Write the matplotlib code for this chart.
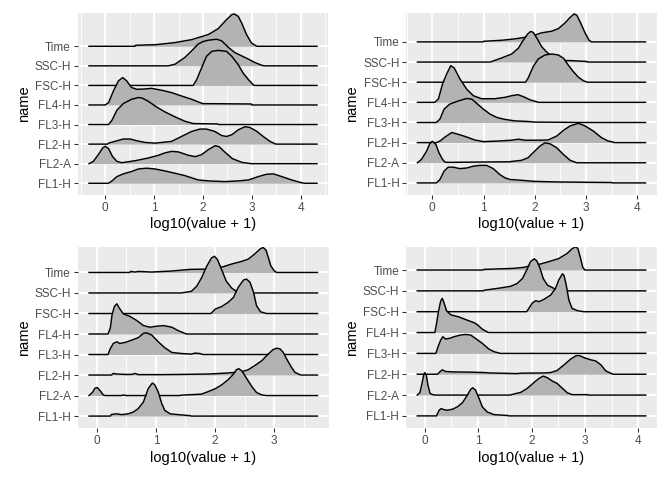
import matplotlib
matplotlib.use("Agg")
import matplotlib.pyplot as plt

# ---------------- data (x, relative ridge height in row units) ----------------
categories = ["FL1-H", "FL2-A", "FL2-H", "FL3-H", "FL4-H", "FSC-H", "SSC-H", "Time"]

# Panel 1 (top-left)
p1_time = [(-0.33, 0), (0.61, 0), (0.62, 0.05), (1.05, 0.085), (1.43, 0.19), (1.77, 0.34), (2.11, 0.60),
           (2.31, 0.90), (2.48, 1.36), (2.59, 1.62), (2.64, 1.65), (2.72, 1.53), (2.79, 1.19), (2.89, 0.60),
           (2.99, 0.17), (3.10, 0), (4.33, 0)]
p1_ssc = [(-0.33, 0), (1.29, 0), (1.43, 0.085), (1.63, 0.43), (1.77, 0.77), (1.90, 1.11), (2.00, 1.24),
          (2.11, 1.31), (2.28, 1.36), (2.38, 1.28), (2.52, 0.94), (2.65, 0.68), (2.79, 0.51), (2.93, 0.34),
          (3.06, 0.17), (3.20, 0.03), (3.25, 0), (4.33, 0)]
p1_fsc = [(-0.33, 0), (1.80, 0), (1.87, 0.29), (1.97, 0.89), (2.07, 1.48), (2.18, 1.74), (2.31, 1.79),
          (2.48, 1.74), (2.59, 1.48), (2.72, 1.06), (2.82, 0.63), (2.93, 0.29), (3.03, 0.03), (3.06, 0),
          (4.33, 0)]
p1_fl4 = [(-0.33, 0), (0.0, 0), (0.07, 0.12), (0.17, 0.72), (0.27, 1.23), (0.36, 1.40), (0.44, 1.23),
          (0.54, 0.89), (0.65, 0.80), (0.82, 0.82), (0.95, 0.85), (1.16, 0.75), (1.36, 0.63), (1.56, 0.46),
          (1.77, 0.29), (1.94, 0.12), (2.0, 0.07), (2.99, 0.05), (3.0, 0), (4.33, 0)]
p1_fl3 = [(-0.33, 0), (0.07, 0), (0.14, 0.22), (0.24, 0.73), (0.37, 1.07), (0.54, 1.29), (0.68, 1.38),
          (0.75, 1.36), (0.88, 1.19), (1.05, 0.90), (1.22, 0.65), (1.43, 0.39), (1.63, 0.17), (1.80, 0.05),
          (2.30, 0.03), (2.32, 0), (4.33, 0)]
p1_fl2h = [(-0.33, 0), (0.05, 0), (0.07, 0.05), (0.20, 0.14), (0.37, 0.26), (0.51, 0.26), (0.65, 0.17),
           (0.82, 0.085), (1.02, 0.05), (1.36, 0.14), (1.56, 0.39), (1.77, 0.65), (1.94, 0.77), (2.07, 0.77),
           (2.24, 0.65), (2.38, 0.44), (2.48, 0.39), (2.59, 0.48), (2.72, 0.73), (2.86, 0.89), (2.96, 0.85),
           (3.10, 0.65), (3.23, 0.39), (3.37, 0.14), (3.47, 0.02), (3.5, 0), (4.33, 0)]
p1_fl2a = [(-0.33, 0), (-0.24, 0.12), (-0.14, 0.46), (-0.05, 0.80), (0.0, 0.89), (0.07, 0.77), (0.15, 0.37),
           (0.24, 0.12), (0.34, 0.05), (0.61, 0.15), (0.88, 0.29), (1.09, 0.43), (1.22, 0.55), (1.36, 0.63),
           (1.50, 0.60), (1.70, 0.43), (1.84, 0.36), (1.97, 0.46), (2.11, 0.72), (2.25, 0.92), (2.33, 0.87),
           (2.43, 0.63), (2.60, 0.26), (2.79, 0.07), (2.99, 0), (4.33, 0)]
p1_fl1 = [(-0.33, 0), (0.07, 0), (0.14, 0.12), (0.24, 0.34), (0.37, 0.48), (0.54, 0.60), (0.68, 0.73),
          (0.85, 0.77), (1.02, 0.73), (1.22, 0.63), (1.43, 0.51), (1.63, 0.39), (1.90, 0.17), (2.11, 0.12),
          (2.45, 0.085), (2.72, 0.12), (2.93, 0.17), (3.13, 0.34), (3.30, 0.46), (3.44, 0.48), (3.61, 0.34),
          (3.81, 0.17), (4.01, 0.03), (4.08, 0), (4.33, 0)]

# Panel 2 (top-right)
p2_time = [(-0.29, 0), (0.99, 0), (1.0, 0.03), (1.35, 0.08), (1.61, 0.15), (1.74, 0.20), (1.94, 0.28),
           (2.13, 0.45), (2.33, 0.53), (2.46, 0.66), (2.59, 0.94), (2.69, 1.22), (2.77, 1.39), (2.82, 1.32),
           (2.88, 1.02), (2.98, 0.45), (3.06, 0.08), (3.11, 0), (4.16, 0)]
p2_ssc = [(-0.29, 0), (1.13, 0), (1.35, 0.20), (1.55, 0.40), (1.68, 0.69), (1.78, 1.10), (1.86, 1.39),
          (1.92, 1.52), (1.97, 1.47), (2.04, 1.19), (2.13, 0.78), (2.23, 0.50), (2.36, 0.23), (2.52, 0.08),
          (2.72, 0.07), (3.01, 0.03), (3.04, 0), (4.16, 0)]
p2_fsc = [(-0.29, 0), (1.82, 0), (1.87, 0.20), (1.97, 0.78), (2.07, 1.16), (2.20, 1.35), (2.33, 1.40),
          (2.46, 1.35), (2.56, 1.19), (2.65, 0.86), (2.75, 0.53), (2.85, 0.25), (2.95, 0.07), (3.03, 0),
          (4.16, 0)]
p2_fl4 = [(-0.29, 0), (0.05, 0), (0.12, 0.17), (0.20, 0.91), (0.28, 1.40), (0.36, 1.82), (0.43, 1.70),
          (0.54, 1.16), (0.67, 0.66), (0.80, 0.33), (0.96, 0.18), (1.22, 0.18), (1.42, 0.25), (1.55, 0.33),
          (1.67, 0.38), (1.78, 0.28), (1.91, 0.12), (2.04, 0.03), (2.07, 0), (4.16, 0)]
p2_fl3 = [(-0.29, 0), (0.08, 0), (0.15, 0.17), (0.23, 0.66), (0.34, 0.91), (0.51, 1.07), (0.67, 1.19),
          (0.77, 1.16), (0.87, 0.94), (1.00, 0.66), (1.13, 0.41), (1.26, 0.25), (1.42, 0.15), (1.61, 0.08),
          (1.87, 0.05), (2.00, 0.02), (3.0, 0), (4.16, 0)]
p2_fl2h = [(-0.29, 0), (0.08, 0), (0.15, 0.08), (0.25, 0.28), (0.38, 0.50), (0.51, 0.41), (0.67, 0.28),
           (0.83, 0.13), (1.00, 0.05), (1.29, 0.08), (1.55, 0.12), (1.68, 0.17), (1.81, 0.12), (2.07, 0.12),
           (2.26, 0.13), (2.43, 0.33), (2.56, 0.61), (2.69, 0.83), (2.85, 0.96), (2.98, 0.83), (3.14, 0.58),
           (3.30, 0.25), (3.43, 0.08), (3.53, 0.03), (3.55, 0), (4.16, 0)]
p2_fl2a = [(-0.29, 0), (-0.21, 0.17), (-0.11, 0.58), (-0.05, 0.94), (0.0, 1.07), (0.07, 0.91), (0.13, 0.50),
           (0.20, 0.17), (0.25, 0.03), (0.31, 0.02), (1.50, 0.05), (1.74, 0.12), (1.87, 0.25), (2.00, 0.58),
           (2.10, 0.83), (2.20, 0.99), (2.30, 0.94), (2.43, 0.74), (2.56, 0.41), (2.69, 0.12), (2.82, 0),
           (4.16, 0)]
p2_fl1 = [(-0.29, 0), (0.08, 0), (0.15, 0.17), (0.23, 0.58), (0.31, 0.78), (0.41, 0.78), (0.54, 0.71),
          (0.67, 0.74), (0.80, 0.83), (0.93, 0.87), (1.06, 0.87), (1.19, 0.71), (1.32, 0.41), (1.42, 0.25),
          (1.52, 0.17), (1.74, 0.13), (1.97, 0.08), (2.39, 0.05), (3.04, 0.03), (3.50, 0.02), (3.52, 0),
          (4.16, 0)]

# Panel 3 (bottom-left)
p3_time = [(-0.13, 0), (0.56, 0), (0.57, 0.05), (0.65, 0.02), (0.70, 0.05), (0.93, 0.02), (1.27, 0.07),
           (1.58, 0.15), (1.83, 0.16), (2.00, 0.21), (2.14, 0.28), (2.28, 0.41), (2.45, 0.54), (2.56, 0.65),
           (2.67, 0.90), (2.76, 1.14), (2.81, 1.22), (2.86, 1.09), (2.90, 0.73), (2.94, 0.33), (3.00, 0.08),
           (3.04, 0), (3.73, 0)]
p3_ssc = [(-0.13, 0), (1.43, 0), (1.60, 0.08), (1.69, 0.33), (1.77, 0.73), (1.86, 1.31), (1.94, 1.71),
          (1.99, 1.79), (2.04, 1.63), (2.11, 1.14), (2.19, 0.57), (2.28, 0.24), (2.36, 0.08), (2.45, 0),
          (3.73, 0)]
p3_fsc = [(-0.13, 0), (1.93, 0), (2.00, 0.21), (2.11, 0.34), (2.22, 0.54), (2.31, 0.78), (2.39, 1.27),
          (2.48, 1.63), (2.53, 1.68), (2.59, 1.52), (2.65, 1.03), (2.70, 0.38), (2.77, 0.08), (2.87, 0),
          (3.73, 0)]
p3_fl4 = [(-0.13, 0), (0.19, 0), (0.23, 0.29), (0.26, 0.95), (0.30, 1.35), (0.34, 1.47), (0.38, 1.27),
          (0.45, 0.98), (0.56, 0.86), (0.68, 0.65), (0.79, 0.41), (0.90, 0.33), (1.01, 0.38), (1.13, 0.41),
          (1.27, 0.33), (1.38, 0.16), (1.49, 0.03), (1.52, 0), (3.73, 0)]
p3_fl3 = [(-0.13, 0), (0.19, 0), (0.23, 0.29), (0.28, 0.54), (0.34, 0.62), (0.39, 0.54), (0.48, 0.59),
          (0.59, 0.70), (0.70, 0.82), (0.79, 1.03), (0.84, 1.06), (0.93, 0.95), (1.04, 0.62), (1.15, 0.33),
          (1.27, 0.10), (1.43, 0.05), (1.60, 0.02), (1.66, 0.07), (1.74, 0.05), (1.80, 0), (3.73, 0)]
p3_fl2h = [(-0.13, 0), (0.25, 0), (0.28, 0.08), (0.34, 0.05), (0.48, 0.03), (0.59, 0.03), (0.65, 0.08),
           (0.70, 0.02), (1.10, 0.02), (1.43, 0.03), (1.89, 0.05), (2.22, 0.10), (2.45, 0.16), (2.56, 0.26),
           (2.67, 0.46), (2.79, 0.70), (2.90, 1.03), (2.98, 1.24), (3.04, 1.31), (3.10, 1.27), (3.15, 1.11),
           (3.21, 0.78), (3.29, 0.38), (3.35, 0.13), (3.43, 0.02), (3.46, 0), (3.73, 0)]
p3_fl2a = [(-0.13, 0), (-0.07, 0.16), (-0.03, 0.36), (0.01, 0.39), (0.06, 0.23), (0.11, 0.03), (0.14, 0),
           (0.42, 0), (0.45, 0.03), (0.50, 0), (1.40, 0), (1.43, 0.02), (1.77, 0.07), (1.89, 0.20),
           (2.00, 0.33), (2.11, 0.52), (2.22, 0.77), (2.31, 1.04), (2.36, 1.26), (2.40, 1.31), (2.45, 1.21),
           (2.53, 0.85), (2.62, 0.44), (2.70, 0.15), (2.79, 0.03), (2.87, 0), (3.73, 0)]
p3_fl1 = [(-0.13, 0), (0.23, 0), (0.25, 0.08), (0.34, 0.11), (0.42, 0.07), (0.53, 0.11), (0.62, 0.20),
          (0.70, 0.36), (0.79, 0.69), (0.87, 1.34), (0.94, 1.61), (0.98, 1.53), (1.04, 1.17), (1.10, 0.60),
          (1.15, 0.28), (1.24, 0.11), (1.38, 0.07), (1.58, 0.02), (1.60, 0), (3.73, 0)]

# Panel 4 (bottom-right)
p4_time = [(-0.14, 0), (1.09, 0), (1.11, 0.03), (1.67, 0.08), (1.86, 0.13), (1.98, 0.21), (2.17, 0.29),
           (2.36, 0.43), (2.51, 0.55), (2.67, 0.80), (2.76, 1.02), (2.83, 1.12), (2.87, 1.02), (2.92, 0.55),
           (2.96, 0.13), (3.00, 0), (4.14, 0)]
p4_ssc = [(-0.14, 0), (1.10, 0), (1.11, 0.03), (1.42, 0.14), (1.61, 0.22), (1.73, 0.35), (1.83, 0.59),
          (1.91, 1.00), (1.98, 1.40), (2.05, 1.54), (2.10, 1.44), (2.16, 1.08), (2.22, 0.59), (2.30, 0.27),
          (2.39, 0.16), (2.48, 0.03), (2.55, 0), (4.14, 0)]
p4_fsc = [(-0.14, 0), (1.91, 0), (1.95, 0.16), (2.02, 0.43), (2.08, 0.53), (2.14, 0.48), (2.23, 0.59),
          (2.36, 0.80), (2.45, 1.12), (2.51, 1.52), (2.58, 1.82), (2.61, 1.73), (2.65, 1.28), (2.70, 0.56),
          (2.76, 0.16), (2.86, 0.05), (2.98, 0), (4.14, 0)]
p4_fl4 = [(-0.14, 0), (0.19, 0), (0.22, 0.40), (0.26, 1.04), (0.30, 1.52), (0.33, 1.64), (0.36, 1.44),
          (0.41, 1.04), (0.49, 0.85), (0.64, 0.75), (0.80, 0.59), (0.92, 0.48), (0.99, 0.37), (1.08, 0.16),
          (1.17, 0.03), (1.20, 0), (4.14, 0)]
p4_fl3 = [(-0.14, 0), (0.21, 0), (0.25, 0.32), (0.30, 0.64), (0.34, 0.80), (0.39, 0.69), (0.46, 0.72),
          (0.55, 0.80), (0.67, 0.88), (0.77, 0.91), (0.86, 0.88), (0.95, 0.72), (1.08, 0.48), (1.20, 0.21),
          (1.30, 0.08), (1.39, 0.02), (1.42, 0), (4.14, 0)]
p4_fl2h = [(-0.14, 0), (0.24, 0), (0.29, 0.13), (0.33, 0.21), (0.39, 0.13), (0.55, 0.11), (0.86, 0.10),
           (1.11, 0.08), (1.24, 0.06), (1.73, 0.03), (1.80, 0.05), (2.23, 0.06), (2.36, 0.08), (2.48, 0.18),
           (2.61, 0.45), (2.73, 0.72), (2.83, 0.88), (2.89, 0.90), (2.98, 0.80), (3.11, 0.69), (3.20, 0.64),
           (3.30, 0.45), (3.39, 0.16), (3.51, 0.02), (3.54, 0), (4.14, 0)]
p4_fl2a = [(-0.14, 0), (-0.09, 0.11), (-0.05, 0.56), (-0.02, 0.96), (0.0, 1.08), (0.03, 0.96), (0.06, 0.48),
           (0.10, 0.08), (0.14, 0.03), (0.19, 0), (1.60, 0), (1.67, 0.05), (1.80, 0.13), (1.92, 0.32),
           (2.05, 0.61), (2.14, 0.80), (2.22, 0.91), (2.30, 0.83), (2.39, 0.67), (2.48, 0.56), (2.58, 0.32),
           (2.67, 0.11), (2.76, 0.02), (3.05, 0.02), (3.06, 0), (4.14, 0)]
p4_fl1 = [(-0.14, 0), (0.22, 0), (0.27, 0.27), (0.31, 0.35), (0.36, 0.30), (0.42, 0.27), (0.52, 0.32),
          (0.61, 0.43), (0.71, 0.64), (0.80, 1.00), (0.86, 1.27), (0.90, 1.35), (0.95, 1.24), (1.02, 0.83),
          (1.08, 0.43), (1.17, 0.19), (1.30, 0.06), (1.55, 0.02), (1.58, 0), (4.14, 0)]

x_ticks_p1 = [0, 1, 2, 3, 4]
x_ticks_p2 = [0, 1, 2, 3, 4]
x_ticks_p3 = [0, 1, 2, 3]
x_ticks_p4 = [0, 1, 2, 3, 4]

x_label = "log10(value + 1)"
y_label = "name"

# ridges ordered as categories (bottom -> top)
panels = [
    dict(ridges=[p1_fl1, p1_fl2a, p1_fl2h, p1_fl3, p1_fl4, p1_fsc, p1_ssc, p1_time], ticks=x_ticks_p1,
         px=(77.6, 328.4, 13.2, 195.0), ytop=9.69),
    dict(ridges=[p2_fl1, p2_fl2a, p2_fl2h, p2_fl3, p2_fl4, p2_fsc, p2_ssc, p2_time], ticks=x_ticks_p2,
         px=(406.0, 656.9, 13.3, 195.0), ytop=9.42),
    dict(ridges=[p3_fl1, p3_fl2a, p3_fl2h, p3_fl3, p3_fl4, p3_fsc, p3_ssc, p3_time], ticks=x_ticks_p3,
         px=(77.6, 328.9, 246.8, 428.4), ytop=9.25),
    dict(ridges=[p4_fl1, p4_fl2a, p4_fl2h, p4_fl3, p4_fl4, p4_fsc, p4_ssc, p4_time], ticks=x_ticks_p4,
         px=(405.8, 657.2, 246.7, 428.4), ytop=9.12),
]

# ---------------- style ----------------
W, H = 672, 480
plt.rcParams["font.family"] = ["Liberation Sans", "DejaVu Sans"]
BG = "#EBEBEB"
FILL = "#B3B3B3"
TXT = "#4D4D4D"
TICK = "#333333"

fig = plt.figure(figsize=(W / 100, H / 100), dpi=100)
fig.patch.set_facecolor("white")

for p in panels:
    l, r, t, b = p["px"]
    ax = fig.add_axes([l / W, 1 - b / H, (r - l) / W, (b - t) / H])
    ax.set_facecolor(BG)
    for s in ax.spines.values():
        s.set_visible(False)

    xmin = min(pt[0] for rg in p["ridges"] for pt in rg)
    xmax = max(pt[0] for rg in p["ridges"] for pt in rg)
    ex = 0.05 * (xmax - xmin)
    ax.set_xlim(xmin - ex, xmax + ex)
    ax.set_ylim(0.4, p["ytop"])

    # grid
    lo, hi = ax.get_xlim()
    k = -1.5
    while k <= 5:
        if lo < k < hi and abs(k - round(k)) > 0.1:
            ax.axvline(k, color="white", lw=0.68, zorder=0.5)
        k += 1.0
    for tk in p["ticks"]:
        ax.axvline(tk, color="white", lw=1.37, zorder=0.6)
    for i in range(len(categories)):
        ax.axhline(i + 1, color="white", lw=1.37, zorder=0.6)

    # ridges: top row first so lower ridges sit in front
    n = len(categories)
    for i in range(n - 1, -1, -1):
        rg = p["ridges"][i]
        xs = [q[0] for q in rg]
        ys = [i + 1 + q[1] for q in rg]
        z = 2 + (n - i) * 2
        ax.fill_between(xs, i + 1, ys, color=FILL, lw=0, zorder=z)
        ax.plot(xs, ys, color="black", lw=1.05, zorder=z + 1, solid_joinstyle="round")

    ax.set_xticks(p["ticks"])
    ax.set_xticklabels([str(v) for v in p["ticks"]])
    ax.set_yticks(range(1, n + 1))
    ax.set_yticklabels(categories)
    ax.tick_params(axis="both", length=2.64, width=0.77, color=TICK, pad=2.1,
                   labelsize=8.45, labelcolor=TXT)
    ax.set_xlabel(x_label, fontsize=10.56, color="black", labelpad=2.64)
    ax.set_ylabel(y_label, fontsize=10.56, color="black", labelpad=2.64)

fig.savefig("out.png", dpi=100, facecolor="white")
